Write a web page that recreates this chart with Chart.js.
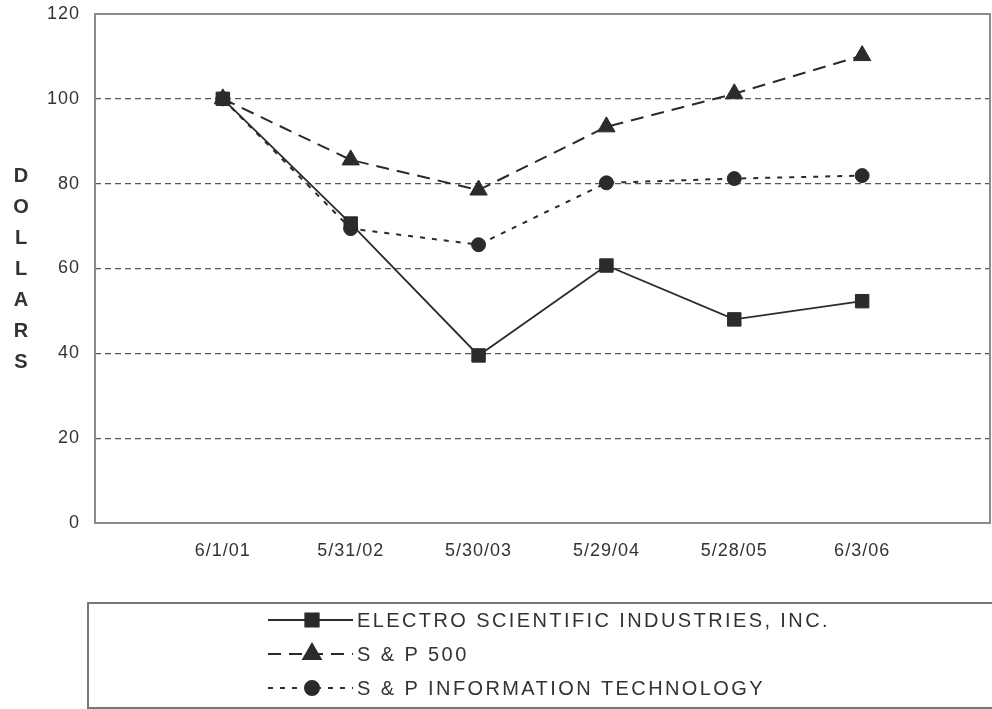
<!DOCTYPE html>
<html>
<head>
<meta charset="utf-8">
<script src="https://cdn.jsdelivr.net/npm/chart.js@4"></script>
<style>
  html, body { margin: 0; padding: 0; background: #fff; }
  #wrap { width: 992px; height: 709px; }
</style>
</head>
<body>
<div id="wrap"><canvas id="perfChart"></canvas></div>
<script>
// Values
const dates = ['6/1/01', '5/31/02', '5/30/03', '5/29/04', '5/28/05', '6/3/06'];
const esiValues = [100, 70.6, 39.5, 60.7, 48.0, 52.3];
const sp500Values = [100, 85.6, 78.5, 93.4, 101.2, 110.2];
const spItValues = [100, 69.4, 65.6, 80.2, 81.2, 81.9];
const yTicks = [0, 20, 40, 60, 80, 100, 120];
const seriesNames = ['ELECTRO SCIENTIFIC INDUSTRIES, INC.', 'S & P 500', 'S & P INFORMATION TECHNOLOGY'];
const axisTitle = 'DOLLARS';

const ink = '#2b2b2b';
const toPoints = (vals) => vals.map((v, i) => ({ x: i + 1, y: v }));

// Plot frame, vertical axis title and the boxed legend
const decorPlugin = {
    id: 'decor',
    beforeDraw(chart) {
        chart.ctx.letterSpacing = '1px';
    },
    beforeDatasetsDraw(chart) {
        const { ctx, chartArea: a } = chart;
        ctx.save();
        ctx.strokeStyle = '#8a8a8a';
        ctx.lineWidth = 2;
        ctx.strokeRect(a.left, a.top, a.right - a.left, a.bottom - a.top);
        ctx.restore();
    },
    afterDraw(chart) {
        const ctx = chart.ctx;
        ctx.save();
        // stacked axis title
        ctx.fillStyle = '#333';
        ctx.font = 'bold 20px "Liberation Sans", Arial, sans-serif';
        ctx.textAlign = 'center';
        ctx.textBaseline = 'middle';
        ctx.letterSpacing = '0px';
        axisTitle.split('').forEach((ch, i) => ctx.fillText(ch, 21, 176 + i * 31));

        // legend box
        ctx.strokeStyle = '#777';
        ctx.lineWidth = 2;
        ctx.strokeRect(88, 603, 920, 105);

        const rowsY = [620, 654, 688];
        chart.data.datasets.forEach((ds, i) => {
            const y = rowsY[i];
            ctx.strokeStyle = ds.borderColor;
            ctx.lineWidth = ds.borderWidth;
            ctx.setLineDash(ds.borderDash || []);
            ctx.beginPath();
            ctx.moveTo(268, y);
            ctx.lineTo(353, y);
            ctx.stroke();
            ctx.setLineDash([]);
            Chart.helpers.drawPoint(ctx, {
                pointStyle: ds.pointStyle,
                radius: ds.pointRadius,
                borderWidth: 1
            }, 312, y);
            ctx.fillStyle = ds.pointBackgroundColor;
            ctx.fill();
            ctx.fillStyle = '#333';
            ctx.font = '20px "Liberation Sans", Arial, sans-serif';
            ctx.letterSpacing = '2.4px';
            ctx.textAlign = 'left';
            ctx.fillText(ds.label, 357, y + 1);
            ctx.letterSpacing = '0px';
        });
        ctx.restore();
    }
};

const pointOpts = (style, r) => ({
    pointStyle: style,
    pointRadius: r,
    pointHoverRadius: r,
    pointBackgroundColor: ink,
    pointBorderColor: ink,
    pointBorderWidth: 1
});

const chart = new Chart(document.getElementById('perfChart'), {
    type: 'line',
    data: {
        datasets: [
            {
                label: seriesNames[0],
                data: toPoints(esiValues),
                borderColor: ink,
                borderWidth: 1.8,
                ...pointOpts('rect', 9.5)
            },
            {
                label: seriesNames[1],
                data: toPoints(sp500Values),
                borderColor: ink,
                borderWidth: 2,
                borderDash: [13, 8],
                ...pointOpts('triangle', 10)
            },
            {
                label: seriesNames[2],
                data: toPoints(spItValues),
                borderColor: ink,
                borderWidth: 2,
                borderDash: [5, 7],
                ...pointOpts('circle', 7)
            }
        ]
    },
    options: {
        responsive: true,
        maintainAspectRatio: false,
        animation: false,
        layout: { autoPadding: false, padding: { top: 14, right: 2, left: 0, bottom: 106 } },
        plugins: {
            legend: { display: false },
            tooltip: { enabled: false }
        },
        scales: {
            x: {
                type: 'linear',
                min: 0,
                max: 7,
                afterBuildTicks: (scale) => {
                    scale.ticks = dates.map((d, i) => ({ value: i + 1 }));
                },
                afterFit: (scale) => {
                    scale.height = 80;
                    scale.paddingLeft = 0;
                    scale.paddingRight = 0;
                },
                grid: { display: false },
                border: { display: false },
                ticks: {
                    color: '#333',
                    padding: 9,
                    maxRotation: 0,
                    autoSkip: false,
                    font: { family: '"Liberation Sans", Arial, sans-serif', size: 18 },
                    callback: (v) => dates[v - 1] || ''
                }
            },
            y: {
                min: 0,
                max: 120,
                afterBuildTicks: (scale) => {
                    scale.ticks = yTicks.map(v => ({ value: v }));
                },
                afterFit: (scale) => {
                    scale.width = 95;
                    scale.paddingTop = 0;
                    scale.paddingBottom = 0;
                },
                grid: {
                    drawTicks: false,
                    lineWidth: 1.2,
                    color: (c) => (c.tick && (c.tick.value === 0 || c.tick.value === 120)) ? 'rgba(0,0,0,0)' : '#555'
                },
                border: { display: false, dash: [6, 4] },
                ticks: {
                    color: '#333',
                    padding: 15,
                    font: { family: '"Liberation Sans", Arial, sans-serif', size: 18 }
                }
            }
        }
    },
    plugins: [decorPlugin]
});
</script>
</body>
</html>
